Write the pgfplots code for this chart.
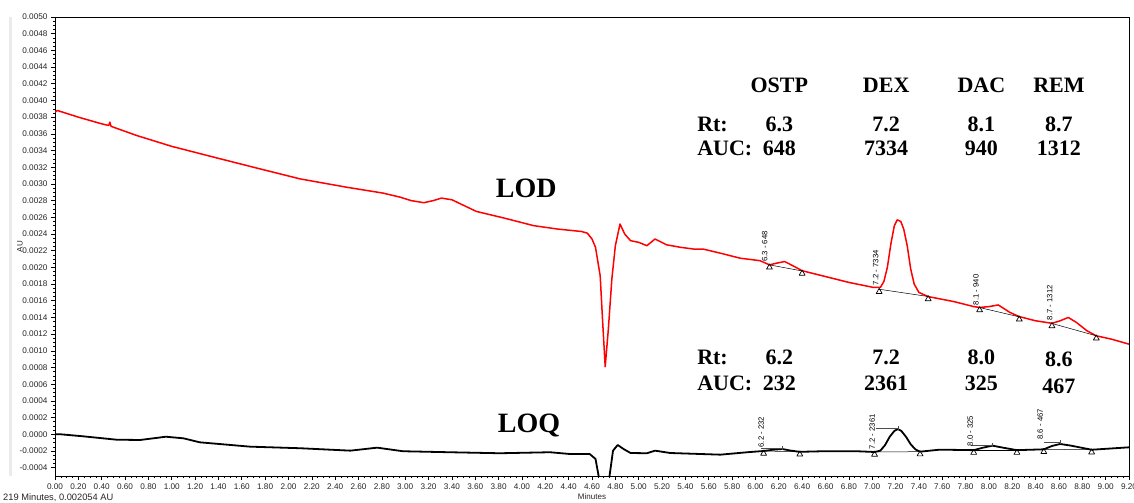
\documentclass[border=0pt]{standalone}
\usepackage{fontspec}
\setmainfont{Liberation Sans}
\newfontfamily\tnr{Liberation Serif}
\usepackage{pgfplots}
\pgfplotsset{compat=1.18}

% LOD trace (red), minutes vs AU
\pgfplotstableread{
t v
0.00 0.00386
0.02 0.00388
0.20 0.00380
0.40 0.00372
0.46 0.00370
0.47 0.00374
0.48 0.00369
0.70 0.00358
1.00 0.00345
1.39 0.00331
1.70 0.00320
2.10 0.00306
2.50 0.00296
2.81 0.00289
2.96 0.00284
3.05 0.00280
3.16 0.002775
3.24 0.00280
3.31 0.00283
3.40 0.00281
3.61 0.00267
3.85 0.00259
4.10 0.00250
4.30 0.00246
4.51 0.00243
4.56 0.00241
4.60 0.00234
4.63 0.00224
4.67 0.00190
4.69 0.00138
4.713 0.00081
4.74 0.00126
4.77 0.00186
4.80 0.00226
4.84 0.00252
4.88 0.00240
4.93 0.00232
5.00 0.00230
5.07 0.00226
5.14 0.00234
5.24 0.00227
5.36 0.00224
5.47 0.00222
5.55 0.00222
5.70 0.00217
5.87 0.00211
6.04 0.00208
6.12 0.00203
6.18 0.00205
6.25 0.00207
6.32 0.00202
6.40 0.00196
6.60 0.00189
6.80 0.00182
7.01 0.00176
7.07 0.00176
7.10 0.00183
7.13 0.00200
7.16 0.00228
7.19 0.00250
7.215 0.00257
7.245 0.00255
7.27 0.00246
7.30 0.00226
7.33 0.00198
7.36 0.00180
7.40 0.00170
7.48 0.00165
7.70 0.00159
7.87 0.00153
7.92 0.00152
8.00 0.00153
8.08 0.00155
8.18 0.00146
8.26 0.00141
8.40 0.00136
8.54 0.00133
8.61 0.00136
8.68 0.00140
8.75 0.00134
8.84 0.00124
8.92 0.00118
9.05 0.00114
9.20 0.00108
}\lod

% LOQ trace (black)
\pgfplotstableread{
t v
0.00 0.000000
0.05 0.000000
0.24 -0.000024
0.53 -0.000065
0.73 -0.000068
0.95 -0.000029
1.10 -0.000048
1.24 -0.000096
1.67 -0.000148
2.10 -0.000167
2.53 -0.000196
2.76 -0.000160
2.98 -0.000203
3.38 -0.000215
3.81 -0.000227
4.24 -0.000215
4.41 -0.000236
4.58 -0.000236
4.63 -0.000295
4.67 -0.000600
4.70 -0.000850
4.74 -0.000600
4.76 -0.000400
4.78 -0.000196
4.82 -0.000128
4.87 -0.000176
4.93 -0.000224
5.07 -0.000227
5.14 -0.000196
5.27 -0.000224
5.70 -0.000244
5.93 -0.000215
6.07 -0.000200
6.15 -0.000185
6.23 -0.000176
6.30 -0.000195
6.38 -0.000210
6.58 -0.000203
6.87 -0.000203
7.02 -0.000212
7.07 -0.000196
7.11 -0.000130
7.15 -0.000030
7.19 0.000040
7.22 0.000063
7.25 0.000040
7.29 -0.000030
7.33 -0.000120
7.37 -0.000180
7.41 -0.000208
7.58 -0.000184
7.87 -0.000190
7.95 -0.000160
8.03 -0.000136
8.12 -0.000160
8.24 -0.000190
8.47 -0.000180
8.54 -0.000140
8.61 -0.000116
8.70 -0.000135
8.88 -0.000185
9.20 -0.000156
}\loq

\begin{document}
\begin{tikzpicture}
\begin{axis}[name=ax,
  scale only axis, width=1074pt, height=459pt,
  xmin=0, xmax=9.2, ymin=-0.0005, ymax=0.005,
  xtick={0,0.2,0.4,0.6,0.8,1,1.2,1.4,1.6,1.8,2,2.2,2.4,2.6,2.8,3,3.2,3.4,3.6,3.8,4,4.2,4.4,4.6,4.8,5,5.2,5.4,5.6,5.8,6,6.2,6.4,6.6,6.8,7,7.2,7.4,7.6,7.8,8,8.2,8.4,8.6,8.8,9,9.2},
  ytick={-0.0004,-0.0002,0,0.0002,0.0004,0.0006,0.0008,0.001,0.0012,0.0014,0.0016,0.0018,0.002,0.0022,0.0024,0.0026,0.0028,0.003,0.0032,0.0034,0.0036,0.0038,0.004,0.0042,0.0044,0.0046,0.0048,0.005},
  minor x tick num=3, minor y tick num=3,
  tick align=outside, xtick pos=left, ytick pos=left,
  major tick length=4pt, minor tick length=2pt,
  tick style={black, line width=0.6pt},
  axis line style={black, line width=0.8pt},
  scaled x ticks=false, scaled y ticks=false,
  xticklabel style={/pgf/number format/.cd, fixed, fixed zerofill, precision=2, assume math mode=true},
  yticklabel style={/pgf/number format/.cd, fixed, fixed zerofill, precision=4, assume math mode=true},
  ticklabel style={font=\fontsize{8.2}{9}\selectfont, text=black!85},
  xlabel={Minutes},
  label style={font=\fontsize{8}{9}\selectfont, text=black!85},
  xlabel style={at={(axis description cs:0.5,0)}, anchor=center, yshift=-21pt},
  every axis plot/.append style={line join=round},
]
\addplot[red, line width=1.5pt] table[x=t, y=v] {\lod};
\addplot[black, line width=1.8pt] table[x=t, y=v] {\loq};

% integration baselines with open triangles
\pgfplotsset{bl/.style={black, line width=0.5pt, mark=triangle, mark size=3.4pt,
  mark options={solid, fill=white, line width=0.7pt, yshift=-2.5pt}}}
\addplot[bl] coordinates {(6.12,0.00203) (6.40,0.001957)};
\addplot[bl] coordinates {(7.06,0.001738) (7.48,0.001651)};
\addplot[bl] coordinates {(7.92,0.001519) (8.26,0.001407)};
\addplot[bl] coordinates {(8.54,0.001328) (8.92,0.00118)};
\addplot[bl] coordinates {(6.07,-0.000200) (6.38,-0.000210)};
\addplot[bl] coordinates {(7.02,-0.000212) (7.41,-0.000208)};
\addplot[bl] coordinates {(7.87,-0.000190) (8.24,-0.000190)};
\addplot[bl] coordinates {(8.47,-0.000180) (8.88,-0.000185)};

% peak height markers on LOQ
\addplot[black!70, line width=0.5pt] coordinates {(6.05,-0.000167) (6.23,-0.000167)};
\addplot[black!70, line width=0.5pt] coordinates {(7.03,0.000072) (7.22,0.000072)};
\addplot[black!70, line width=0.5pt] coordinates {(7.85,-0.000128) (8.03,-0.000128)};
\addplot[black!70, line width=0.5pt] coordinates {(8.47,-0.000096) (8.61,-0.000096)};
\addplot[only marks, black!70, mark=|, mark size=2pt, mark options={line width=0.5pt}]
  coordinates {(6.23,-0.000167) (7.22,0.000072) (8.03,-0.000128) (8.61,-0.000096)};

% peak labels
\tikzset{pl/.style={rotate=90, anchor=west, inner sep=0.5pt, font=\fontsize{7.7}{8}\selectfont}}
\node[pl] at (axis cs:6.08,0.00206) {6.3 - 648};
\node[pl] at (axis cs:7.03,0.00178) {7.2 - 7334};
\node[pl] at (axis cs:7.89,0.00154) {8.1 - 940};
\node[pl] at (axis cs:8.52,0.00136) {8.7 - 1312};
\node[pl] at (axis cs:6.05,-0.000165) {6.2 - 232};
\node[pl] at (axis cs:7.00,-0.000185) {7.2 - 2361};
\node[pl] at (axis cs:7.84,-0.000150) {8.0 - 325};
\node[pl] at (axis cs:8.44,-0.000070) {8.6 - 467};

% summary text
\tikzset{bt/.style={font=\tnr\bfseries\fontsize{22}{26}\selectfont, inner sep=0}}
\node[bt] at (axis cs:6.204,0.00418) {OSTP};
\node[bt] at (axis cs:7.12,0.00418) {DEX};
\node[bt] at (axis cs:7.935,0.00418) {DAC};
\node[bt] at (axis cs:8.60,0.00418) {REM};
\node[bt, anchor=west] at (axis cs:5.50,0.003712) {Rt:};
\node[bt, anchor=west] at (axis cs:5.50,0.003425) {AUC:};
\node[bt] at (axis cs:6.204,0.003712) {6.3};
\node[bt] at (axis cs:7.12,0.003712) {7.2};
\node[bt] at (axis cs:7.935,0.003712) {8.1};
\node[bt] at (axis cs:8.60,0.003712) {8.7};
\node[bt] at (axis cs:6.204,0.003425) {648};
\node[bt] at (axis cs:7.12,0.003425) {7334};
\node[bt] at (axis cs:7.935,0.003425) {940};
\node[bt] at (axis cs:8.60,0.003425) {1312};
\node[bt, anchor=west] at (axis cs:5.50,0.000925) {Rt:};
\node[bt, anchor=west] at (axis cs:5.50,0.000614) {AUC:};
\node[bt] at (axis cs:6.204,0.000925) {6.2};
\node[bt] at (axis cs:7.12,0.000925) {7.2};
\node[bt] at (axis cs:7.935,0.000925) {8.0};
\node[bt] at (axis cs:8.60,0.000900) {8.6};
\node[bt] at (axis cs:6.204,0.000614) {232};
\node[bt] at (axis cs:7.12,0.000614) {2361};
\node[bt] at (axis cs:7.935,0.000614) {325};
\node[bt] at (axis cs:8.60,0.000570) {467};
\node[font=\tnr\bfseries\fontsize{28}{32}\selectfont, inner sep=0] at (axis cs:4.036,0.002946) {LOD};
\node[font=\tnr\bfseries\fontsize{28}{32}\selectfont, inner sep=0] at (axis cs:4.06,0.0001) {LOQ};
\end{axis}
\draw[black!8, line width=3pt] ([xshift=-45pt]ax.south west) -- ([xshift=-45pt]ax.north west);
\node[rotate=90, inner sep=0, font=\fontsize{8}{9}\selectfont, text=black!85]
  at ([xshift=-35pt]ax.west) {AU};
\node[anchor=base west, inner sep=0, font=\fontsize{9.3}{10}\selectfont, text=black!85]
  at ([xshift=-52pt,yshift=-24pt]ax.south west) {219 Minutes, 0.002054 AU};
\pgfresetboundingbox
\path[use as bounding box] ([xshift=-55pt,yshift=-26pt]ax.south west) rectangle ([xshift=5pt,yshift=17pt]ax.north east);
\end{tikzpicture}
\end{document}
